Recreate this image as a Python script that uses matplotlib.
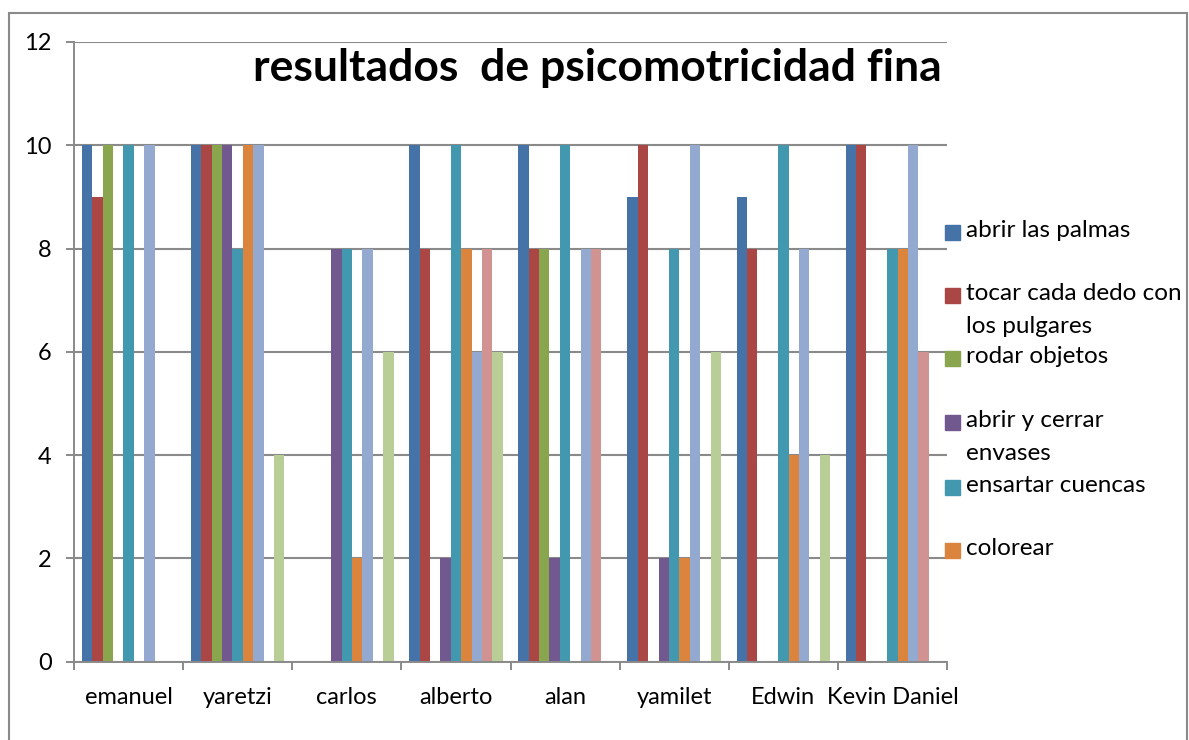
import numpy as np
import matplotlib
matplotlib.use("Agg")
import matplotlib.pyplot as plt
from matplotlib.patches import Rectangle

# datos
alumnos = ["emanuel", "yaretzi", "carlos", "alberto", "alan", "yamilet", "Edwin", "Kevin Daniel"]
series = ["abrir las palmas", "tocar cada dedo con\nlos pulgares", "rodar objetos",
          "abrir y cerrar\nenvases", "ensartar cuencas", "colorear", "serie 7", "serie 8", "serie 9"]
abrir_palmas = [10, 10, 0, 10, 10, 9, 9, 10]
tocar_dedos = [9, 10, 0, 8, 8, 10, 8, 10]
rodar_objetos = [10, 10, 0, 0, 8, 0, 0, 0]
abrir_cerrar = [0, 10, 8, 2, 2, 2, 0, 0]
ensartar = [10, 8, 8, 10, 10, 8, 10, 8]
colorear = [0, 10, 2, 8, 0, 2, 4, 8]
serie7 = [10, 10, 8, 6, 8, 10, 8, 10]
serie8 = [0, 0, 0, 8, 8, 0, 0, 6]
serie9 = [0, 4, 6, 6, 0, 6, 4, 0]
valores = [abrir_palmas, tocar_dedos, rodar_objetos, abrir_cerrar, ensartar,
           colorear, serie7, serie8, serie9]
colores = ["#4572A7", "#AA4643", "#89A54E", "#71588F", "#4198AF",
           "#DB843D", "#93A9CF", "#D19392", "#B9CD96"]
yticks = [0, 2, 4, 6, 8, 10, 12]

fuente = "Lato"
gris = "#8a8a8a"

fig = plt.figure(figsize=(11.89, 7.4), dpi=100)
ax = fig.add_axes([74 / 1189, 1 - 661.5 / 740, (947 - 74) / 1189, (661.5 - 42) / 740])

n = len(valores)
w = 1 / (n + 1.5)
x = np.arange(len(alumnos))
for j, (vals, c) in enumerate(zip(valores, colores)):
    ax.bar(x + (0.75 + j) * w, vals, width=w, align="edge", color=c,
           linewidth=0, zorder=2)

ax.set_xlim(0, len(alumnos))
ax.set_ylim(0, 12)
ax.set_yticks(yticks)
ax.set_yticklabels([str(v) for v in yticks], fontsize=17, family=fuente)
ax.set_xticks(np.arange(len(alumnos) + 1))
ax.set_xticklabels([])
ax.set_xticks(x + 0.5, minor=True)
ax.set_xticklabels(alumnos, minor=True, fontsize=17, family=fuente)
ax.tick_params(axis="x", which="major", length=6, width=1.4, color=gris, direction="out")
ax.tick_params(axis="x", which="minor", length=0, pad=18)
ax.tick_params(axis="y", length=6, width=1.4, color=gris, pad=10)
ax.grid(axis="y", color=gris, linewidth=1.5, zorder=0)
ax.set_axisbelow(True)
for s in ["top", "right"]:
    ax.spines[s].set_visible(False)
for s in ["left", "bottom"]:
    ax.spines[s].set_color(gris)
    ax.spines[s].set_linewidth(1.4)
    ax.spines[s].set_zorder(4)

fig.text(597 / 1189, 1 - 68 / 740, "resultados  de psicomotricidad fina", ha="center",
         va="center", fontsize=32, fontweight="bold", family=fuente)

# leyenda (solo se ven las primeras 6 entradas)
ys = [232, 295, 358, 422, 487, 550]
for k, yy in enumerate(ys):
    fig.patches.append(Rectangle((945 / 1189, 1 - (yy + 7.5) / 740), 15 / 1189, 15 / 740,
                                 transform=fig.transFigure, color=colores[k]))
    fig.text(966 / 1189, 1 - (yy - 12) / 740, series[k], ha="left", va="top",
             fontsize=17.5, family=fuente, linespacing=1.7)

# marco del grafico
fig.patches.append(Rectangle((9 / 1189, -0.02), (1187 - 9) / 1189, 1.02 - 13 / 740,
                             transform=fig.transFigure, fill=False, edgecolor=gris, linewidth=1.5))

fig.savefig("out.png", dpi=100)
